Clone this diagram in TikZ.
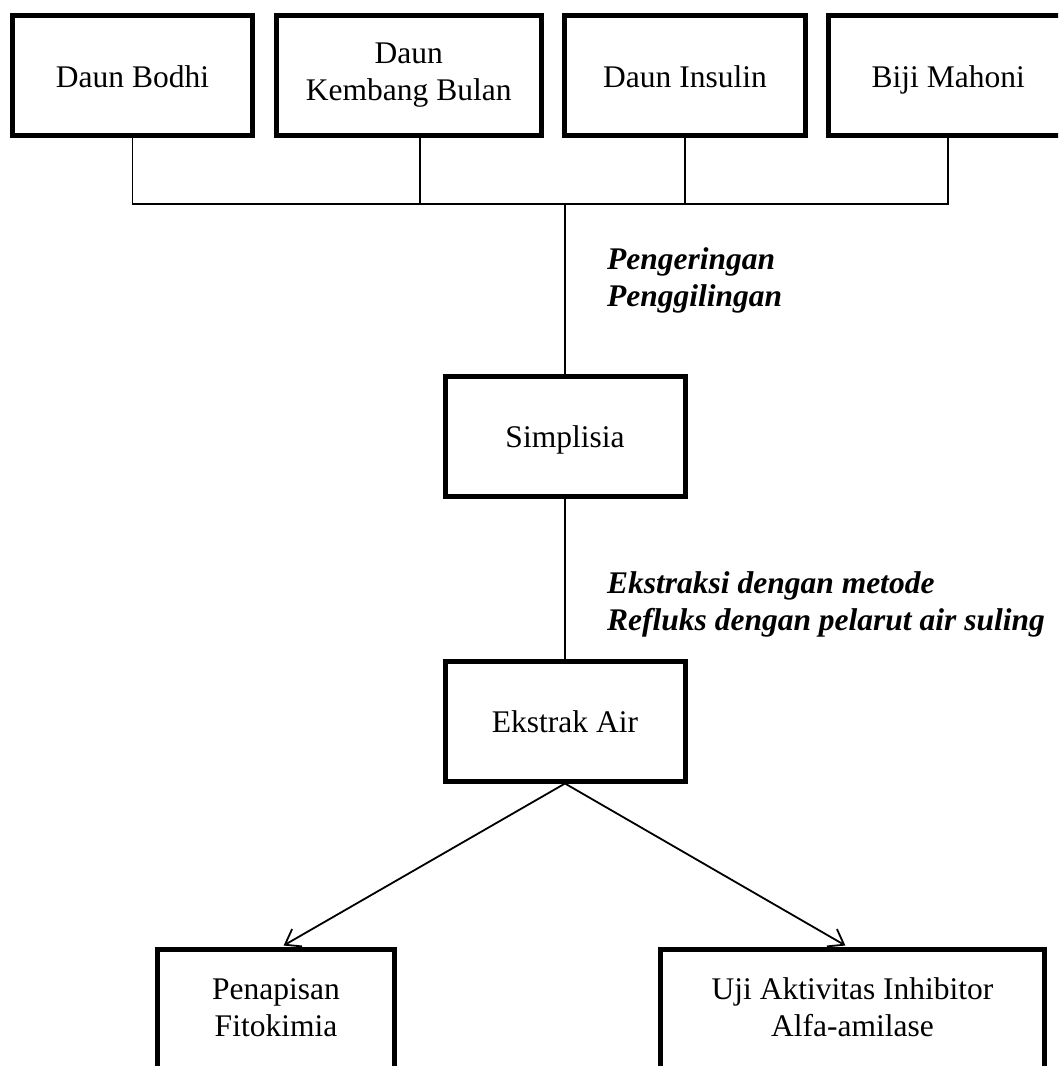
\documentclass[tikz,border=0pt]{standalone}
\usepackage{fontspec}
\setmainfont{Liberation Serif}
\usepackage{tikz}
\usetikzlibrary{arrows.meta}
\newcommand{\huruf}{\fontsize{31.5}{37}\selectfont}
\newcommand{\penyangga}{\rule[-8pt]{0pt}{39pt}}
\tikzset{
  bahan/.style  = {draw,line width=5pt,inner sep=0pt,align=center,minimum height=120pt,font=\huruf,
                   execute at begin node=\penyangga,execute at end node=\penyangga},
  garis/.style  = {line width=1.8pt},
  panah/.style  = {-{Straight Barb[length=14pt,width=20pt,line width=1.8pt]},line width=1.8pt},
  proses/.style = {inner sep=0pt,align=left,font=\huruf\bfseries\itshape}
}

\begin{document}
\begin{tikzpicture}[x=1pt,y=-1pt]
  \useasboundingbox (0,0) rectangle (1058,1066);
  \clip (0,0) rectangle (1058,1066);
  \node[bahan,minimum width=240pt]   (bodhi)     at (132.5,75.5)  {Daun Bodhi};
  \node[bahan,minimum width=264.5pt] (kembang)   at (408.75,75.5) {Daun\\Kembang Bulan};
  \node[bahan,minimum width=241pt]   (insulin)   at (685,75.5)    {Daun Insulin};
  \node[bahan,minimum width=239.5pt] (mahoni)    at (948.25,75.5) {Biji Mahoni};
  \node[bahan,minimum width=240pt]   (simplisia) at (565,436)     {Simplisia};
  \node[bahan,minimum width=240pt]   (ekstrak)   at (565,721)     {Ekstrak Air};
  \node[bahan,minimum width=237pt,minimum height=124pt] (penapisan) at (276,1011.5)  {Penapisan\\Fitokimia};
  \node[bahan,minimum width=384pt,minimum height=124pt] (uji)       at (852.5,1011.5) {Uji Aktivitas Inhibitor\\Alfa-amilase};
  \coordinate (bus) at (565,204);
  \draw[garis] (bodhi.south) -- (bodhi.south |- bus) -- (mahoni.south |- bus) -- (mahoni.south);
  \draw[garis] ([xshift=11.5pt]kembang.south) -- ([xshift=11.5pt]kembang.south |- bus);
  \draw[garis] (insulin.south) -- (insulin.south |- bus);
  \draw[garis] (bus) -- (simplisia.north);
  \draw[garis] (simplisia.south) -- (ekstrak.north);
  \node[proses,anchor=north west] (kering) at (607,247) {Pengeringan\\Penggilingan};
  \node[proses,anchor=north west] (refluks) at (607,571.5) {Ekstraksi dengan metode\\Refluks dengan pelarut air suling};
  \draw[panah,shorten >=3pt] (ekstrak.south) -- ([xshift=5pt]penapisan.north);
  \draw[panah,shorten >=3pt] (ekstrak.south) -- ([xshift=-4.5pt]uji.north);
\end{tikzpicture}
\end{document}
